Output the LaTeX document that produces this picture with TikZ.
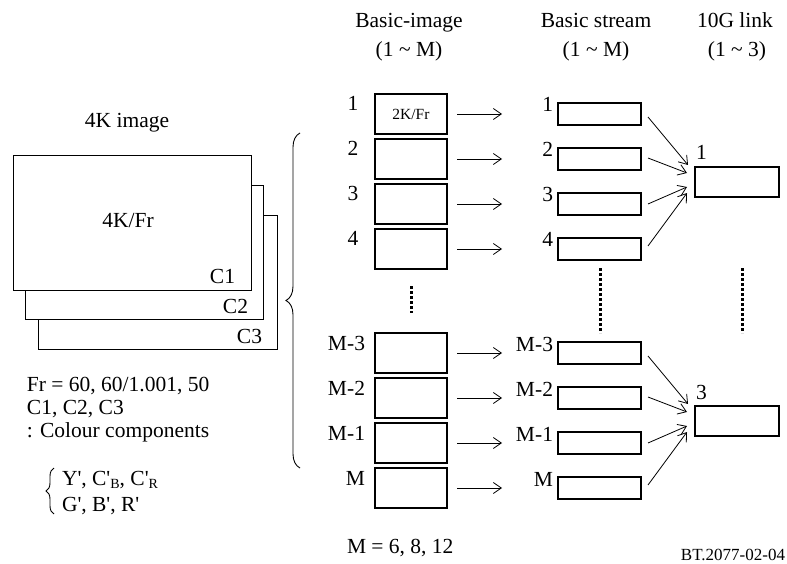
\documentclass[tikz,border=0pt]{standalone}
\usepackage{fontspec}
\setmainfont{Liberation Serif}
\usetikzlibrary{arrows.meta,decorations.pathreplacing}
\newcommand\sbx[1]{\raisebox{-3pt}{\fontsize{14}{14}\selectfont #1}}
\newcommand\qs{\textquotesingle}
\begin{document}
\begin{tikzpicture}[x=1pt,y=-1pt,
  every node/.style={inner sep=0pt, outer sep=0pt},
  txt/.style={font=\fontsize{21.5}{25}\selectfont, anchor=base},
  frame/.style={draw, line width=0.9pt, fill=white, minimum width=238pt, minimum height=134pt},
  bimg/.style={draw, line width=1.3pt, minimum width=72pt, minimum height=40pt},
  bstr/.style={draw, line width=1.3pt, minimum width=83pt, minimum height=22pt},
  blink/.style={draw, line width=1.2pt, minimum width=84pt, minimum height=30pt},
  arr/.style={line width=0.8pt, -{Straight Barb[length=8pt,width=11pt,line width=0.8pt]}},
  dots/.style={line width=3pt, dash pattern=on 3pt off 2pt},
  brc/.style={decorate, line width=0.9pt},
]
\useasboundingbox (0,0) rectangle (787,564);

% 4K image stack
\node[frame, minimum width=239pt] (c3) at (157.5,282) {};
\node[frame] (c2) at (144,252) {};
\node[frame, minimum height=135pt] (c1) at (132,222.5) {};
\node[txt] (t4k) at (127,128) {4K image};
\node[txt] (t4kfr) at (128,227) {4K/Fr};
\node[txt, anchor=base east] (lc1) at (235,283) {C1};
\node[txt, anchor=base east] (lc2) at (248,313) {C2};
\node[txt, anchor=base east] (lc3) at (262,343) {C3};

% notes
\node[txt, anchor=base west] (n1) at (27,391) {Fr = 60, 60/1.001, 50};
\node[txt, anchor=base west] (n2) at (27,414) {C1, C2, C3};
\node[txt, anchor=base west] (n3) at (27,437) {: Colour components};
\node[txt, anchor=base west] (n4) at (62,485) {Y\qs, C\qs\sbx{B}, C\qs\sbx{R}};
\node[txt, anchor=base west] (n5) at (62,511) {G\qs, B\qs, R\qs};
\draw[brc, decoration={brace, amplitude=8pt}] (54,514) -- (54,468);

% big brace
\draw[brc, decoration={brace, amplitude=14pt}] (300,468) -- (300,133);

% headers
\node[txt] (h1) at (409,28) {Basic-image};
\node[txt] (h1b) at (409,57) {(1 \textasciitilde{} M)};
\node[txt] (h2) at (596,28) {Basic stream};
\node[txt] (h2b) at (596,57) {(1 \textasciitilde{} M)};
\node[txt] (h3) at (735,28) {10G link};
\node[txt] (h3b) at (737,57) {(1 \textasciitilde{} 3)};

% basic-image boxes
\node[bimg] (b1) at (411,114) {\fontsize{15.5}{18}\selectfont 2K/Fr};
\node[bimg] (b2) at (411,159) {};
\node[bimg] (b3) at (411,204) {};
\node[bimg] (b4) at (411,249) {};
\node[bimg] (bm3) at (411,353) {};
\node[bimg] (bm2) at (411,398) {};
\node[bimg] (bm1) at (411,443) {};
\node[bimg] (bm) at (411,488) {};
\node[txt] at (353,111) {1};
\node[txt] at (353,156) {2};
\node[txt] at (353,201) {3};
\node[txt] at (353,246) {4};
\node[txt, anchor=base east] at (365,350) {M-3};
\node[txt, anchor=base east] at (365,395) {M-2};
\node[txt, anchor=base east] at (365,440) {M-1};
\node[txt, anchor=base east] at (365,485) {M};

% basic stream boxes
\node[bstr] (s1) at (599.5,114) {};
\node[bstr] (s2) at (599.5,159) {};
\node[bstr] (s3) at (599.5,204) {};
\node[bstr] (s4) at (599.5,249) {};
\node[bstr] (sm3) at (599.5,353) {};
\node[bstr] (sm2) at (599.5,398) {};
\node[bstr] (sm1) at (599.5,443) {};
\node[bstr] (sm) at (599.5,488) {};
\node[txt, anchor=base east] at (553,112) {1};
\node[txt, anchor=base east] at (553,157) {2};
\node[txt, anchor=base east] at (553,202) {3};
\node[txt, anchor=base east] at (553,247) {4};
\node[txt, anchor=base east] at (553,351) {M-3};
\node[txt, anchor=base east] at (553,396) {M-2};
\node[txt, anchor=base east] at (553,441) {M-1};
\node[txt, anchor=base east] at (553,486) {M};

% links
\node[blink] (l1) at (737,182) {};
\node[blink] (l3) at (737,421) {};
\node[txt, anchor=base west] at (696,160) {1};
\node[txt, anchor=base west] at (696,399) {3};

% arrows image -> stream
\foreach \a/\b in {b1/s1,b2/s2,b3/s3,b4/s4,bm3/sm3,bm2/sm2,bm1/sm1,bm/sm}
  \draw[arr, shorten <=10pt, shorten >=56pt] (\a.east) -- (\a.east -| \b.west);

% arrows stream -> link
\foreach \s/\l in {s1/l1,sm3/l3}
  \draw[arr] ([shift={(7,3)}]\s.east) -- ([shift={(-7,-17)}]\l.west);
\foreach \s/\l in {s2/l1,sm2/l3}
  \draw[arr] ([shift={(7,-1)}]\s.east) -- ([shift={(-8,-9)}]\l.west);
\foreach \s/\l in {s3/l1,sm1/l3}
  \draw[arr] ([shift={(7,0)}]\s.east) -- ([shift={(-8,5)}]\l.west);
\foreach \s/\l in {s4/l1,sm/l3}
  \draw[arr] ([shift={(7,-3)}]\s.east) -- ([shift={(-8,11)}]\l.west);

% dotted continuation
\draw[dots] (411,286) -- (411,313);
\draw[dots] (600,268) -- (600,333);
\draw[dots] (742,268) -- (742,333);

% footer
\node[txt, anchor=base west] (mval) at (347,553) {M = 6, 8, 12};
\node[txt, anchor=base east, font=\fontsize{17}{20}\selectfont] (ref) at (785,560) {BT.2077-02-04};
\end{tikzpicture}
\end{document}
